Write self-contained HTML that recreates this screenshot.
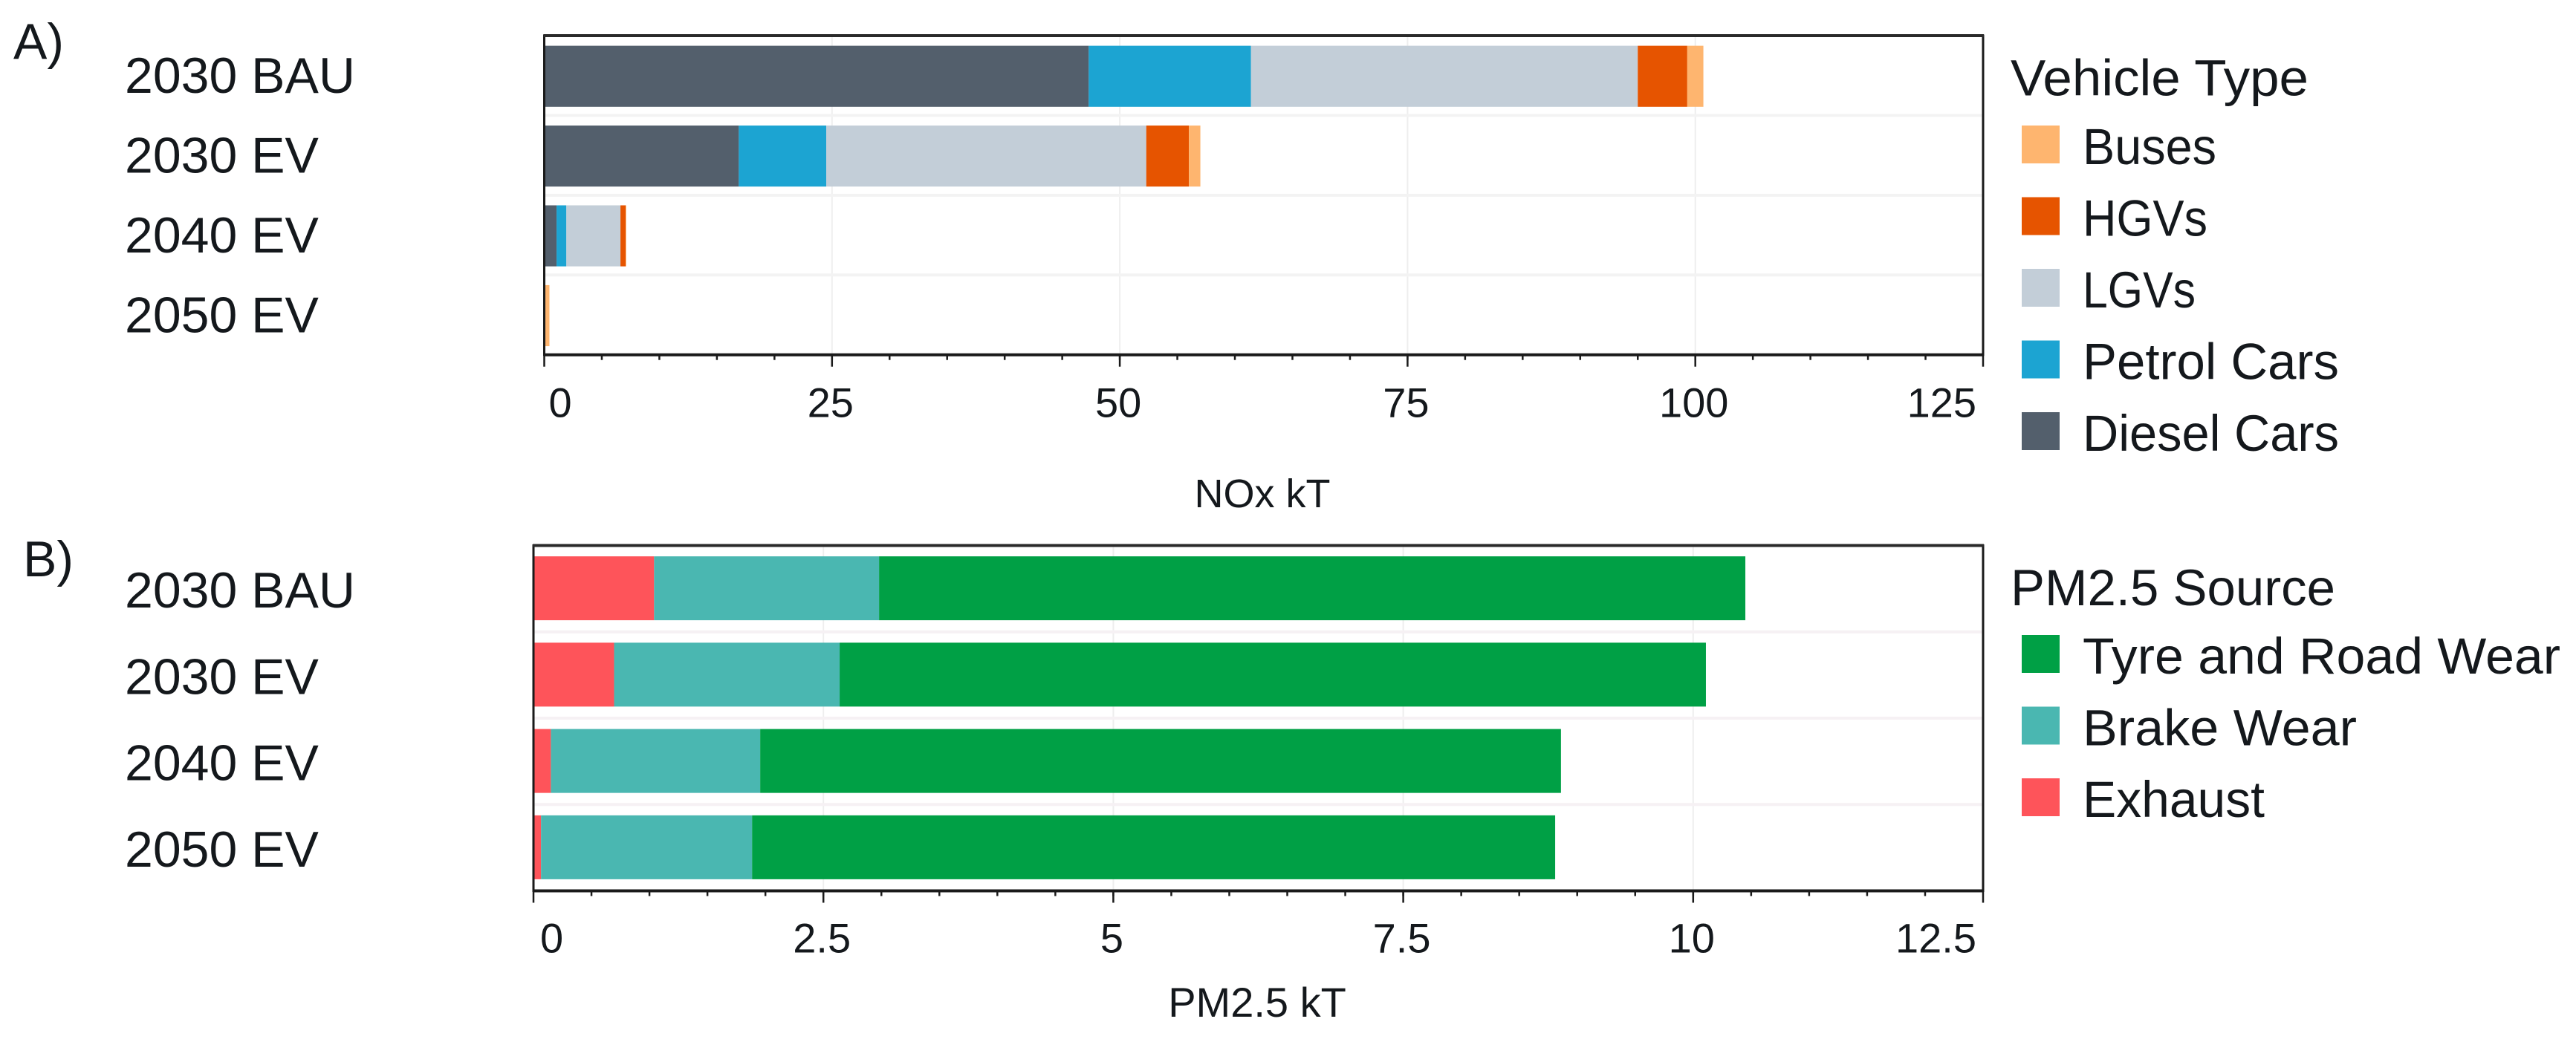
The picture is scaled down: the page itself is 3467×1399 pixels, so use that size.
<!DOCTYPE html>
<html lang="en">
<head>
<meta charset="utf-8">
<title>NOx and PM2.5 emissions by scenario</title>
<style>
html,body{margin:0;padding:0;background:#fff;}
svg{display:block;}
text{font-family:"Liberation Sans",sans-serif;fill:#14181c;}
</style>
</head>
<body>
<svg id="chart" xmlns="http://www.w3.org/2000/svg" width="3467" height="1399" viewBox="0 0 3467 1399">
<rect width="3467" height="1399" fill="#fff"/>
<text x="18" y="79" font-size="68">A)</text>
<text x="31" y="776" font-size="68">B)</text>
</svg>
<script>
// Shared categories
const scenarios = ['2030 BAU', '2030 EV', '2040 EV', '2050 EV'];

// Panel A: NOx kT
const noxDiesel = [47.3, 16.9, 1.07, 0];
const noxPetrol = [14.1, 7.6, 0.85, 0];
const noxLgv = [33.6, 27.8, 4.7, 0];
const noxHgv = [4.3, 3.7, 0.45, 0];
const noxBuses = [1.4, 1.0, 0.05, 0.45];
const noxTicks = [0, 25, 50, 75, 100, 125];
const noxTickLabels = ['0', '25', '50', '75', '100', '125'];

// Panel B: PM2.5 kT
const pmExhaust = [1.04, 0.695, 0.15, 0.065];
const pmBrake = [1.94, 1.945, 1.805, 1.82];
const pmTyre = [7.47, 7.47, 6.905, 6.925];
const pmTicks = [0, 2.5, 5, 7.5, 10, 12.5];
const pmTickLabels = ['0', '2.5', '5', '7.5', '10', '12.5'];

const svg = document.getElementById('chart');
const NS = 'http://www.w3.org/2000/svg';

function make(tag, attrs, text) {
  const el = document.createElementNS(NS, tag);
  for (const k in attrs) el.setAttribute(k, attrs[k]);
  if (text !== undefined) el.textContent = text;
  svg.appendChild(el);
  return el;
}

function drawPanel(p) {
  const xScale = v => p.left + (v / p.max) * (p.right - p.left);
  const band = (p.bottom - p.top) / scenarios.length;
  const barH = band * p.barRatio;

  // vertical gridlines
  p.ticks.forEach(t => {
    const g = make('line', {x1: xScale(t), x2: xScale(t), y1: p.top, y2: p.bottom, stroke: '#eeeeee', 'stroke-width': 2});
    
    
  });
  // horizontal gridlines
  for (let i = 1; i < scenarios.length; i++) {
    const y = p.top + band * i;
    const g = make('line', {x1: p.left, x2: p.right, y1: y, y2: y, stroke: p.gridColor, 'stroke-width': 4});
    
    
  }
  // stacked bars
  scenarios.forEach((s, i) => {
    let acc = 0;
    const yc = p.top + band * (i + 0.5) + p.barShift;
    p.series.forEach(ser => {
      const v = ser.values[i];
      if (v > 0) {
        const r = make('rect', {x: xScale(acc), y: yc - barH / 2, width: xScale(acc + v) - xScale(acc), height: barH, fill: ser.color});
        
        
      }
      acc += v;
    });
    const lab = make('text', {x: 168, y: p.top + band * (i + 0.5) + p.catShift, 'font-size': 68}, s);
    
    
  });
  // frame
  const fr = make('rect', {x: p.left, y: p.top, width: p.right - p.left, height: p.bottom - p.top, fill: 'none', stroke: '#1a1a1a', 'stroke-width': 3});
  
  
  const base = make('line', {x1: p.left - 1, x2: p.right + 1, y1: p.bottom, y2: p.bottom, stroke: '#1a1a1a', 'stroke-width': 4});
  
  
  const topLine = make('line', {x1: p.left - 1, x2: p.right + 1, y1: p.top, y2: p.top, stroke: '#2a2a2a', 'stroke-width': 4});
  
  
  // minor ticks
  for (let j = 1; j * p.minor < p.max; j++) {
    const x = xScale(j * p.minor);
    const m = make('line', {x1: x, x2: x, y1: p.bottom, y2: p.bottom + 7, stroke: '#1a1a1a', 'stroke-width': 2.5});
    
    
  }
  // major ticks + labels
  p.ticks.forEach((t, i) => {
    const x = xScale(t);
    const k = make('line', {x1: x, x2: x, y1: p.bottom, y2: p.bottom + 16, stroke: '#1a1a1a', 'stroke-width': 2.5});
    
    
    let anchor = 'middle', lx = x - 2;
    if (i === 0) { anchor = 'start'; lx = x + p.firstOffset; }
    if (i === p.ticks.length - 1) { anchor = 'end'; lx = x - 9; }
    const tl = make('text', {x: lx, y: p.tickBase, 'font-size': 56, 'text-anchor': anchor}, p.tickLabels[i]);
    
    
  });
  // axis title
  const at = make('text', {x: p.titleX, y: p.titleY, 'font-size': p.titleSize, 'text-anchor': 'middle'}, p.title);
  
  
  // legend
  const lt = make('text', {x: 2706, y: p.legendTitleY, 'font-size': 69, textLength: p.legendTitleWidth, lengthAdjust: 'spacingAndGlyphs'}, p.legendTitle);
  
  
  p.legend.forEach((e, i) => {
    const sw = make('rect', {x: 2721, y: p.legendY + i * 96.5, width: 51, height: 51, fill: e.color});
    
    
    const tx = make('text', {x: 2803, y: p.legendY + 52 + i * 96.5, 'font-size': 69, textLength: e.width, lengthAdjust: 'spacingAndGlyphs'}, e.name);
    
    
  });
}

const C = {diesel: '#535f6c', petrol: '#1ca4d2', lgv: '#c3ced8', hgv: '#e65400', buses: '#feb56f',
           tyre: '#00a045', brake: '#4ab7b1', exhaust: '#fe545a'};

drawPanel({
  left: 732.5, right: 2669, top: 48, bottom: 477.7, max: 125, minor: 5, barRatio: 0.765, barShift: 1, catShift: 23.5,
  gridColor: '#f3f3f3', firstOffset: 6, tickBase: 561.5, ticks: noxTicks, tickLabels: noxTickLabels,
  title: 'NOx kT', titleX: 1699, titleY: 683, titleSize: 54,
  legendTitle: 'Vehicle Type', legendTitleWidth: 401, legendTitleY: 128.5, legendY: 169,
  series: [
    {values: noxDiesel, color: C.diesel},
    {values: noxPetrol, color: C.petrol},
    {values: noxLgv, color: C.lgv},
    {values: noxHgv, color: C.hgv},
    {values: noxBuses, color: C.buses}
  ],
  legend: [
    {name: 'Buses', color: C.buses, width: 180},
    {name: 'HGVs', color: C.hgv, width: 168},
    {name: 'LGVs', color: C.lgv, width: 152},
    {name: 'Petrol Cars', color: C.petrol, width: 345},
    {name: 'Diesel Cars', color: C.diesel, width: 345}
  ]
});

drawPanel({
  left: 718, right: 2669, top: 734.5, bottom: 1199.5, max: 12.5, minor: 0.5, barRatio: 0.74, barShift: -0.5, catShift: 25.5,
  gridColor: '#f6f1f4', firstOffset: 9, tickBase: 1282.5, ticks: pmTicks, tickLabels: pmTickLabels,
  title: 'PM2.5 kT', titleX: 1692, titleY: 1369, titleSize: 56,
  legendTitle: 'PM2.5 Source', legendTitleWidth: 437, legendTitleY: 815, legendY: 855,
  series: [
    {values: pmExhaust, color: C.exhaust},
    {values: pmBrake, color: C.brake},
    {values: pmTyre, color: C.tyre}
  ],
  legend: [
    {name: 'Tyre and Road Wear', color: C.tyre, width: 643},
    {name: 'Brake Wear', color: C.brake, width: 369},
    {name: 'Exhaust', color: C.exhaust, width: 245}
  ]
});
</script>
</body>
</html>
